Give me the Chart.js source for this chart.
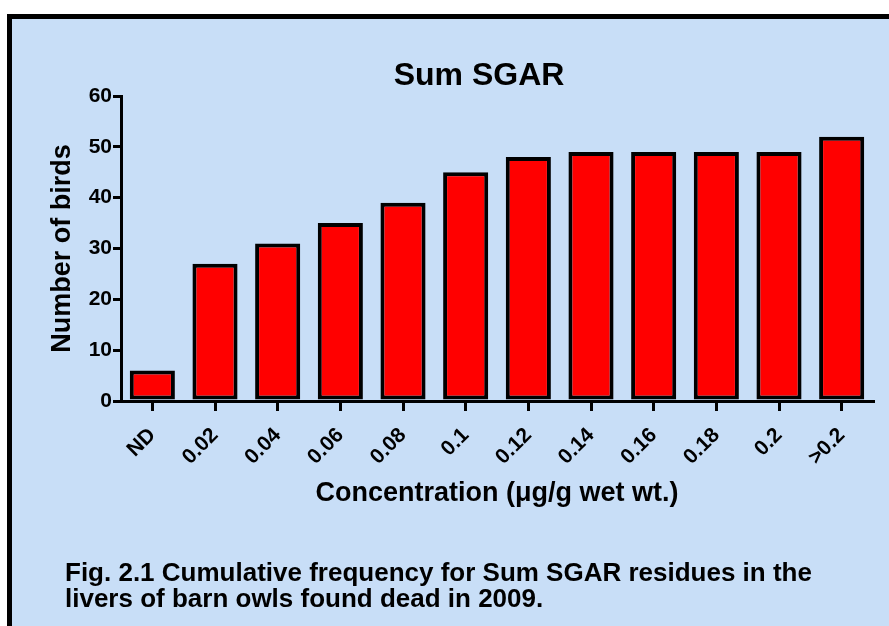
<!DOCTYPE html>
<html>
<head>
<meta charset="utf-8">
<script src="https://cdn.jsdelivr.net/npm/chart.js@4.4.1/dist/chart.umd.min.js"></script>
<style>
  html, body { margin: 0; padding: 0; background: #ffffff; }
  body { width: 889px; height: 626px; position: relative; overflow: hidden; }
  #frame { position: absolute; left: 7px; top: 14px; right: 0; bottom: 0;
           background: #c8def7; border-left: 5px solid #000; border-top: 5px solid #000; }
  #chart { position: absolute; left: 0; top: 0; }
  #caption { position: absolute; left: 65px; top: 559px; font-family: Arial, 'Liberation Sans', sans-serif;
             font-weight: bold; font-size: 26px; line-height: 26px; color: #000; white-space: nowrap; }
</style>
</head>
<body>
<div id="frame"></div>
<canvas id="chart" width="889" height="626"></canvas>
<div id="caption">Fig. 2.1 Cumulative frequency for Sum SGAR residues in the<br>livers of barn owls found dead in 2009.</div>
<script>
const chartTitle = "Sum SGAR";
const yAxisTitle = "Number of birds";
const xAxisTitle = "Concentration (\u03bcg/g wet wt.)";
const categories = ["ND", "0.02", "0.04", "0.06", "0.08", "0.1", "0.12", "0.14", "0.16", "0.18", "0.2", ">0.2"];
const birdCounts = [6, 27, 31, 35, 39, 45, 48, 49, 49, 49, 49, 52];
const yTicks = [0, 10, 20, 30, 40, 50, 60];

const FONT = "Arial, 'Liberation Sans', sans-serif";

const titlePlugin = {
  id: 'customTitle',
  afterDraw(chart) {
    const ctx = chart.ctx;
    const a = chart.chartArea;
    ctx.save();
    ctx.font = "bold 32px " + FONT;
    ctx.fillStyle = "#000";
    ctx.textAlign = "center";
    ctx.textBaseline = "alphabetic";
    ctx.fillText(chartTitle, (a.left + a.right) / 2 - 18, 85);
    ctx.restore();
  }
};

new Chart(document.getElementById('chart'), {
  type: 'bar',
  data: {
    labels: categories,
    datasets: [{
      data: birdCounts,
      backgroundColor: '#ff0000',
      borderColor: '#000000',
      borderWidth: 4,
      borderSkipped: false,
      categoryPercentage: 1.0,
      barPercentage: 0.72
    }]
  },
  options: {
    responsive: false,
    animation: false,
    devicePixelRatio: 1,
    layout: { padding: { left: 46, right: 16, top: 96, bottom: 116 } },
    plugins: { legend: { display: false }, tooltip: { enabled: false }, title: { display: false } },
    scales: {
      x: {
        offset: true,
        afterFit(scale) { scale.height = 109; },
        grid: { offset: false, drawOnChartArea: false, drawTicks: true, tickLength: 10, color: '#000', lineWidth: 3 },
        border: { display: true, color: '#000', width: 3 },
        ticks: { color: '#000', font: { family: FONT, size: 21, weight: 'bold' }, minRotation: 45, maxRotation: 45, padding: 12, autoSkip: false },
        title: { display: true, text: xAxisTitle, color: '#000', font: { family: FONT, size: 27, weight: 'bold' }, padding: 0 }
      },
      y: {
        min: 0, max: 60,
        afterFit(scale) { scale.width = 75; },
        afterBuildTicks(scale) { scale.ticks = yTicks.map(v => ({ value: v })); },
        grid: { drawOnChartArea: false, drawTicks: true, tickLength: 8, color: '#000', lineWidth: 3 },
        border: { display: true, color: '#000', width: 3 },
        ticks: { color: '#000', font: { family: FONT, size: 21, weight: 'bold' }, padding: 1 },
        title: { display: true, text: yAxisTitle, color: '#000', font: { family: FONT, size: 27, weight: 'bold' }, padding: 0 }
      }
    }
  },
  plugins: [titlePlugin]
});
</script>
</body>
</html>
